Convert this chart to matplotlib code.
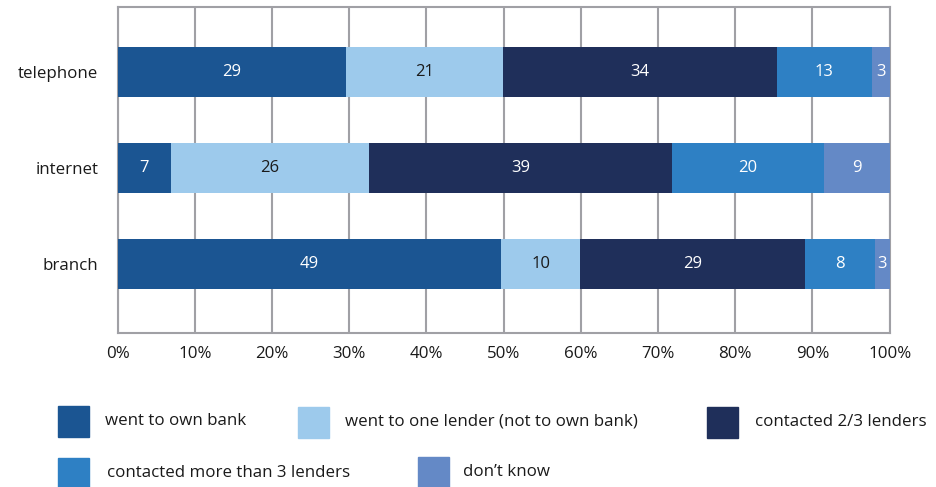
import matplotlib.pyplot as plt
from matplotlib.patches import Rectangle
import numpy as np

plt.rcParams['font.family'] = ['Open Sans', 'DejaVu Sans']

channels = ['branch', 'internet', 'telephone']
series = ['went to own bank', 'went to one lender (not to own bank)',
          'contacted 2/3 lenders', 'contacted more than 3 lenders', "don\u2019t know"]

# printed labels
own_bank = [49, 7, 29]
one_lender = [10, 26, 21]
two_three = [29, 39, 34]
more_three = [8, 20, 13]
dont_know = [3, 9, 3]

# bar widths (% of row) as drawn in the picture
own_bank_w = [49.7, 6.9, 29.6]
one_lender_w = [10.2, 25.6, 20.3]
two_three_w = [29.1, 39.3, 35.5]
more_three_w = [9.1, 19.7, 12.3]
dont_know_w = [1.9, 8.5, 2.3]

colors = ['#1b5592', '#9dcaec', '#1f2f5a', '#2e80c4', '#6489c6']
text_colors = ['white', '#1a1a1a', 'white', 'white', 'white']

labels = np.array([own_bank, one_lender, two_three, more_three, dont_know])
widths = np.array([own_bank_w, one_lender_w, two_three_w, more_three_w, dont_know_w])

fig = plt.figure(figsize=(9.36, 4.87), dpi=100)
ax = fig.add_axes([117.6/936, 1 - 333/487, (889.7-117.6)/936, (333-7)/487])

y = np.arange(len(channels))
left = np.zeros(len(channels))
for i in range(len(series)):
    ax.barh(y, widths[i], left=left, height=0.52, color=colors[i], zorder=3)
    for j in range(len(channels)):
        ax.text(left[j] + widths[i][j] / 2, y[j], '%d' % labels[i][j],
                ha='center', va='center', color=text_colors[i], fontsize=12, zorder=4)
    left += widths[i]

ax.set_xlim(0, 100)
ax.set_ylim(-0.72, 2.68)
ax.set_xticks(np.arange(0, 101, 10))
ax.set_xticklabels(['%d%%' % v for v in range(0, 101, 10)], fontsize=12.2, color='#1a1a1a')
ax.set_yticks(y)
ax.set_yticklabels(channels, fontsize=12.2, color='#1a1a1a')
ax.tick_params(length=0)
ax.tick_params(axis='y', pad=14)
ax.tick_params(axis='x', pad=9)
ax.grid(axis='x', color='#a0a0a5', linewidth=1.5, zorder=0)
for s in ax.spines.values():
    s.set_color('#a0a0a5')
    s.set_linewidth(1.5)

# legend, laid out by hand in pixel positions
legend_pos = [(58, 406, 105), (298, 407, 345), (707, 407, 755), (58, 458, 107), (418, 457, 463)]
for i, (px, py, tx) in enumerate(legend_pos):
    fig.patches.append(Rectangle((px/936, 1 - (py+31)/487), 31/936, 31/487,
                                 transform=fig.transFigure, color=colors[i]))
    fig.text(tx/936, 1 - (py+15)/487, series[i], fontsize=12.2, color='#1a1a1a', va='center')

fig.savefig('out.png', dpi=100)
